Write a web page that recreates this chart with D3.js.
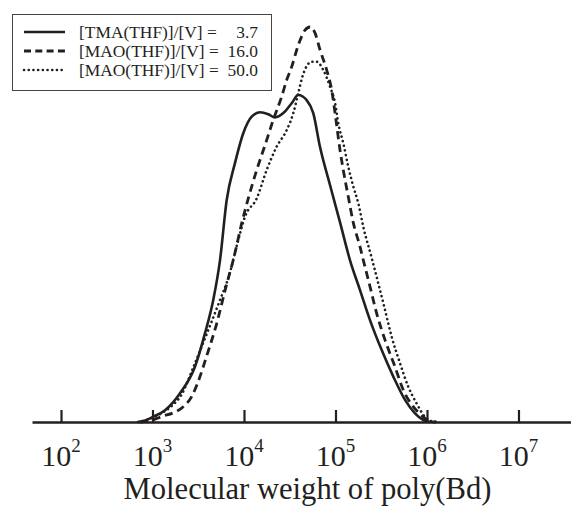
<!DOCTYPE html>
<html>
<head>
<meta charset="utf-8">
<script src="https://cdn.jsdelivr.net/npm/d3@7/dist/d3.min.js"></script>
<style>
  html, body { margin: 0; padding: 0; background: #fff; }
  svg { display: block; }
</style>
</head>
<body>
<svg id="chart" width="571" height="507"></svg>
<script>
// ---- data (x = log10 of molecular weight, y = normalized intensity) ----
const tickExponents = [2, 3, 4, 5, 6, 7];
const xTitle = "Molecular weight of poly(Bd)";

const seriesLabels = ["[TMA(THF)]/[V] =", "[MAO(THF)]/[V] =", "[MAO(THF)]/[V] ="];
const seriesValues = ["3.7", "16.0", "50.0"];

const tma37LogM = [2.84, 2.92, 3.005, 3.137, 3.301, 3.464, 3.574, 3.664, 3.738, 3.811, 3.902, 3.992, 4.084, 4.175, 4.266, 4.339, 4.430, 4.521, 4.593, 4.685, 4.757, 4.831, 4.940, 5.049, 5.158, 5.268, 5.377, 5.505, 5.632, 5.760, 5.869, 5.960, 6.033];
const tma37Int  = [0, 0.004, 0.013, 0.030, 0.073, 0.140, 0.225, 0.309, 0.410, 0.562, 0.656, 0.731, 0.773, 0.784, 0.779, 0.771, 0.782, 0.807, 0.828, 0.815, 0.782, 0.696, 0.600, 0.506, 0.410, 0.334, 0.258, 0.182, 0.115, 0.056, 0.022, 0.005, 0];

const mao16LogM = [2.863, 2.973, 3.115, 3.224, 3.333, 3.432, 3.497, 3.596, 3.694, 3.803, 3.891, 3.978, 4.047, 4.139, 4.230, 4.320, 4.412, 4.467, 4.521, 4.593, 4.667, 4.721, 4.776, 4.831, 4.904, 4.958, 5.005, 5.049, 5.085, 5.140, 5.195, 5.268, 5.304, 5.377, 5.450, 5.541, 5.650, 5.741, 5.850, 5.960, 6.033, 6.098];
const mao16Int  = [0, 0.003, 0.015, 0.023, 0.038, 0.066, 0.101, 0.170, 0.243, 0.342, 0.418, 0.506, 0.566, 0.638, 0.701, 0.765, 0.824, 0.866, 0.899, 0.954, 0.992, 1.000, 0.985, 0.942, 0.891, 0.841, 0.765, 0.689, 0.638, 0.570, 0.504, 0.444, 0.410, 0.343, 0.275, 0.208, 0.140, 0.081, 0.039, 0.013, 0.001, 0];

const mao50LogM = [2.842, 2.973, 3.104, 3.213, 3.322, 3.443, 3.596, 3.738, 3.836, 3.929, 4.011, 4.139, 4.248, 4.357, 4.467, 4.539, 4.593, 4.634, 4.685, 4.740, 4.795, 4.867, 4.940, 4.995, 5.031, 5.085, 5.140, 5.195, 5.249, 5.304, 5.396, 5.468, 5.541, 5.614, 5.705, 5.796, 5.887, 5.978, 6.069, 6.120];
const mao50Int  = [0, 0.008, 0.023, 0.041, 0.071, 0.137, 0.225, 0.309, 0.370, 0.453, 0.520, 0.566, 0.638, 0.697, 0.739, 0.782, 0.832, 0.871, 0.901, 0.912, 0.912, 0.891, 0.849, 0.808, 0.756, 0.706, 0.646, 0.596, 0.554, 0.494, 0.415, 0.351, 0.284, 0.216, 0.149, 0.089, 0.047, 0.013, 0.001, 0];

// ---- layout ----
const ink = "#231f20";
const serif = "Liberation Serif";
const svg = d3.select("#chart");

const x = d3.scaleLog().domain([Math.pow(10, 1.683), Math.pow(10, 7.574)]).range([32, 571]);
const y = d3.scaleLinear().domain([0, 1]).range([422, 27]);

const styles = [
  { dash: null, width: 2.6, cap: "butt" },
  { dash: "8,5", width: 2.8, cap: "butt" },
  { dash: "0.1,4.6", width: 2.6, cap: "round" }
];

const seriesData = [
  d3.zip(tma37LogM, tma37Int),
  d3.zip(mao16LogM, mao16Int),
  d3.zip(mao50LogM, mao50Int)
];

const line = d3.line()
  .x(d => x(Math.pow(10, d[0])))
  .y(d => y(d[1]))
  .curve(d3.curveMonotoneX);

svg.append("g").selectAll("path")
  .data(seriesData)
  .join("path")
  .attr("d", line)
  .attr("fill", "none")
  .attr("stroke", ink)
  .attr("stroke-width", (d, i) => styles[i].width)
  .attr("stroke-dasharray", (d, i) => styles[i].dash)
  .attr("stroke-linecap", (d, i) => styles[i].cap)
  .attr("stroke-linejoin", "round");

// ---- x axis ----
const axis = d3.axisBottom(x)
  .tickValues(tickExponents.map(e => Math.pow(10, e)))
  .tickSizeInner(-12)
  .tickSizeOuter(0)
  .tickFormat("");

const gx = svg.append("g").attr("transform", "translate(0,422)").call(axis);
gx.select(".domain").attr("stroke", ink).attr("stroke-width", 2.5);
gx.selectAll(".tick line").attr("stroke", ink).attr("stroke-width", 2.2);

const labels = svg.append("g");
tickExponents.forEach(e => {
  const t = labels.append("text")
    .attr("x", x(Math.pow(10, e)))
    .attr("y", 466)
    .attr("text-anchor", "middle")
    .attr("font-family", serif)
    .attr("font-size", 30)
    .attr("fill", ink);
  t.append("tspan").text("10");
  t.append("tspan").attr("dy", -14).attr("font-size", 19).text(e);
});

svg.append("text")
  .attr("x", 307.5)
  .attr("y", 499)
  .attr("text-anchor", "middle")
  .attr("font-family", serif)
  .attr("font-size", 30.6)
  .attr("fill", ink)
  .text(xTitle);

// ---- legend ----
const lg = svg.append("g");
lg.append("rect")
  .attr("x", 12.5).attr("y", 14.5).attr("width", 259).attr("height", 76)
  .attr("fill", "#fff").attr("stroke", "#444").attr("stroke-width", 1);

const rowY = [32, 51, 70];
seriesLabels.forEach((lab, i) => {
  lg.append("line")
    .attr("x1", 24).attr("x2", 65)
    .attr("y1", rowY[i]).attr("y2", rowY[i])
    .attr("stroke", ink)
    .attr("stroke-width", styles[i].width)
    .attr("stroke-dasharray", i === 1 ? "7,4.3" : styles[i].dash)
    .attr("stroke-linecap", styles[i].cap);
  lg.append("text")
    .attr("x", 79).attr("y", rowY[i] + 5.5)
    .attr("font-family", serif)
    .attr("font-size", 17.4)
    .attr("fill", ink)
    .text(lab);
  lg.append("text")
    .attr("x", 258).attr("y", rowY[i] + 5.5)
    .attr("text-anchor", "end")
    .attr("font-family", serif)
    .attr("font-size", 17.4)
    .attr("fill", ink)
    .text(seriesValues[i]);
});
</script>
</body>
</html>
